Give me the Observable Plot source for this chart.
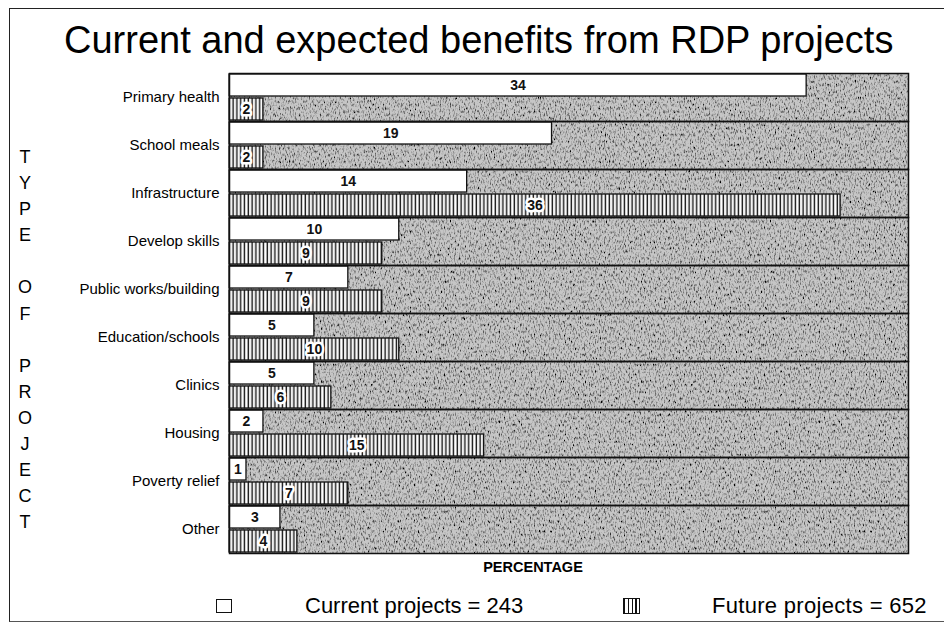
<!DOCTYPE html>
<html>
<head>
<meta charset="utf-8">
<script src="https://cdn.jsdelivr.net/npm/d3@7"></script>
<script src="https://cdn.jsdelivr.net/npm/@observablehq/plot@0.6"></script>
<style>
  body { margin: 0; background: #fff; font-family: "Liberation Sans", Arial, sans-serif; }
  #page { position: relative; width: 944px; height: 640px; overflow: hidden; background: #fff; }
  #border { position: absolute; left: 9px; top: 8px; width: 940px; height: 612px;
            border-top: 1.5px solid #222; border-left: 1.5px solid #222; border-bottom: 1px solid #555; }
  #title { position: absolute; left: 64px; top: 19px; font-size: 38px; color: #000; white-space: nowrap; }
  #ytitle { position: absolute; left: 14px; top: 144px; width: 22px; font-size: 18px; line-height: 26.1px;
            text-align: center; color: #000; }
  #chart { position: absolute; left: 0; top: 70px; }
  #xlabel { position: absolute; left: 433px; width: 200px; text-align: center; top: 559px;
            font-size: 14.5px; font-weight: bold; color: #000; }
  .legbox { position: absolute; border: 1.5px solid #111; }
  .legtext { position: absolute; top: 593px; font-size: 22px; color: #000; white-space: nowrap; }
</style>
</head>
<body>
<div id="page">
  <div id="border"></div>
  <div id="title">Current and expected benefits from RDP projects</div>
  <div id="ytitle"></div>
  <div id="chart"></div>
  <div id="xlabel">PERCENTAGE</div>
  <div class="legbox" id="legCur" style="left:216px;top:599px;width:14px;height:12px;background:#fff;"></div>
  <div class="legtext" id="legCurText" style="left:305px;"></div>
  <div class="legbox" id="legFut" style="left:623px;top:598px;width:15px;height:14px;background:repeating-linear-gradient(90deg,#111 0 1.4px,#fff 1.4px 3.8px);"></div>
  <div class="legtext" id="legFutText" style="left:712px;letter-spacing:0.3px;"></div>
</div>
<script>
// ---- data ----
const categories = ["Primary health", "School meals", "Infrastructure", "Develop skills",
  "Public works/building", "Education/schools", "Clinics", "Housing", "Poverty relief", "Other"];
const currentValues = [34, 19, 14, 10, 7, 5, 5, 2, 1, 3];
const futureValues  = [2, 2, 36, 9, 9, 10, 6, 15, 7, 4];
const seriesNames = ["Current", "Future"];
const legendLabels = ["Current projects = 243", "Future projects = 652"];
const axisTitle = "TYPE OF PROJECT";

// ---- table ----
const rows = [];
categories.forEach((c, i) => {
  rows.push({category: c, series: "Current", value: currentValues[i]});
  rows.push({category: c, series: "Future", value: futureValues[i]});
});
const cur = rows.filter(d => d.series === "Current");
const fut = rows.filter(d => d.series === "Future");

document.getElementById("legCurText").textContent = legendLabels[0];
document.getElementById("legFutText").textContent = legendLabels[1];
const yt = document.getElementById("ytitle");
axisTitle.split("").forEach(ch => {
  const d = document.createElement("div");
  d.textContent = ch === " " ? "\u00a0" : ch;
  yt.appendChild(d);
});

const chart = Plot.plot({
  width: 944,
  height: 487,
  marginTop: 2,
  marginBottom: 4,
  marginLeft: 229,
  marginRight: 36,
  style: {fontFamily: "Liberation Sans, Arial, sans-serif", fontSize: "15px", color: "#000", background: "transparent"},
  x: {domain: [0, 40], axis: null},
  y: {domain: seriesNames, axis: null, paddingInner: 0.1, paddingOuter: 0.03},
  fy: {domain: categories, padding: 0, axis: "left", label: null, tickSize: 0, tickPadding: 10},
  marks: [
    Plot.frame({fill: "#c6c6c6", stroke: "none"}),
    Plot.barX(cur, {x: "value", y: "series", fy: "category", fill: "white", stroke: "#111", strokeWidth: 1.3}),
    Plot.barX(fut, {x: "value", y: "series", fy: "category", fill: "url(#hatch)", stroke: "#111", strokeWidth: 1.3}),
    Plot.text(cur, {x: d => d.value / 2, y: "series", fy: "category", text: "value",
      fontSize: 14, fontWeight: "bold", fill: "#111"}),
    Plot.text(fut, {x: d => d.value / 2, y: "series", fy: "category", text: "value",
      fontSize: 14, fontWeight: "bold", fill: "#111", stroke: "white", strokeWidth: 5, paintOrder: "stroke"}),
    Plot.frame({stroke: "#111", strokeWidth: 1.5})
  ]
});

const svg = d3.select(chart);
const defs = svg.insert("defs", ":first-child");
const pat = defs.append("pattern").attr("id", "hatch").attr("patternUnits", "userSpaceOnUse")
  .attr("width", 3.8).attr("height", 10);
pat.append("rect").attr("width", 3.8).attr("height", 10).attr("fill", "white");
pat.append("rect").attr("x", 0.6).attr("width", 1.4).attr("height", 10).attr("fill", "#111");
const f = defs.append("filter").attr("id", "stipple").attr("x", 0).attr("y", 0).attr("width", 1).attr("height", 1);
f.append("feTurbulence").attr("type", "fractalNoise").attr("baseFrequency", "0.8 0.3")
  .attr("numOctaves", 2).attr("seed", 7).attr("result", "noise");
f.append("feColorMatrix").attr("in", "noise").attr("type", "matrix")
  .attr("values", "0 0 0 0 0  0 0 0 0 0  0 0 0 0 0  -3 0 0 0 1.6").attr("result", "dots");
f.append("feComposite").attr("in", "dots").attr("in2", "SourceGraphic").attr("operator", "in").attr("result", "dots2");
const fm = f.append("feMerge");
fm.append("feMergeNode").attr("in", "SourceGraphic");
fm.append("feMergeNode").attr("in", "dots2");
const frames = svg.selectAll("[aria-label=frame]").nodes();
if (frames.length) d3.select(frames[0]).attr("filter", "url(#stipple)");

document.getElementById("chart").appendChild(chart);
</script>
</body>
</html>
